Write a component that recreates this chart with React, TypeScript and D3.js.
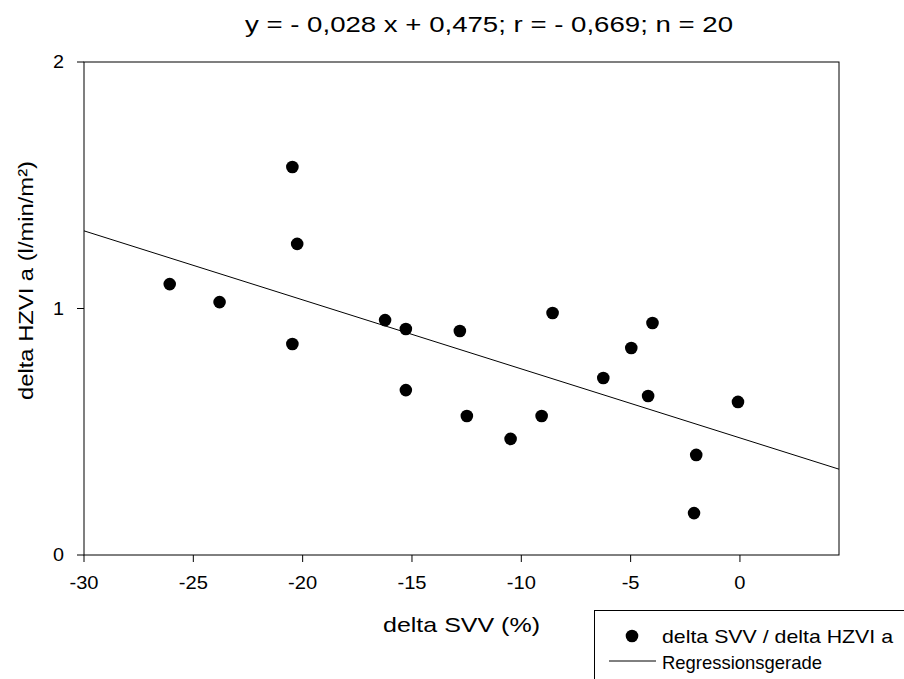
import React from "react";
import * as d3 from "d3";

const xValues = [-26.08, -23.8, -20.47, -20.25, -20.47, -16.23, -15.28, -15.28, -12.81, -12.49, -10.49, -9.07, -8.57, -6.25, -4.97, -4.0, -4.2, -0.09, -2.0, -2.1];
const yValues = [1.099, 1.026, 1.574, 1.262, 0.856, 0.953, 0.917, 0.669, 0.909, 0.564, 0.471, 0.564, 0.982, 0.718, 0.84, 0.941, 0.645, 0.621, 0.406, 0.17];
const xTicks = [-30, -25, -20, -15, -10, -5, 0];
const yTicks = [0, 1, 2];
const slope = -0.028;
const intercept = 0.475;
const title = "y = - 0,028 x + 0,475; r = - 0,669; n = 20";
const xLabel = "delta SVV (%)";
const yLabel = "delta HZVI a (l/min/m²)";
const legendLabels = ["delta SVV / delta HZVI a", "Regressionsgerade"];

export default function App() {
  const W = 904, H = 679;
  const left = 84, right = 839, top = 62, bottom = 555;
  const x = d3.scaleLinear().domain([-30, 4.53]).range([left, right]);
  const y = d3.scaleLinear().domain([0, 2]).range([bottom, top]);
  const font = "'Liberation Sans', Arial, sans-serif";
  const line = d3.line<number>().x((d) => x(d)).y((d) => y(slope * d + intercept));
  const [x0, x1] = x.domain();
  return (
    <svg width={W} height={H} style={{ position: "absolute", left: 0, top: 0 }} fontFamily={font}>
      <rect x={0} y={0} width={W} height={H} fill="#fff" />
      <text x={245} y={32} fontSize={22} textLength={488} lengthAdjust="spacingAndGlyphs">{title}</text>
      <rect x={left} y={top} width={right - left} height={bottom - top} fill="none" stroke="#000" strokeWidth={1} />
      {xTicks.map((t) => (
        <g key={"x" + t}>
          <line x1={x(t)} x2={x(t)} y1={bottom} y2={bottom + 7} stroke="#000" />
          <text transform={`translate(${x(t)},589) scale(1.06,1)`} textAnchor="middle" fontSize={19}>{t}</text>
        </g>
      ))}
      {yTicks.map((t) => (
        <g key={"y" + t}>
          <line x1={left - 7} x2={left} y1={y(t)} y2={y(t)} stroke="#000" />
          <text transform={`translate(${left - 20},${y(t) + 6}) scale(1.1,1)`} textAnchor="end" fontSize={18}>{t}</text>
        </g>
      ))}
      <text x={383} y={632} fontSize={21} textLength={157} lengthAdjust="spacingAndGlyphs">{xLabel}</text>
      <text transform={`translate(33,400) rotate(-90)`} fontSize={21} textLength={239} lengthAdjust="spacingAndGlyphs">{yLabel}</text>
      <path d={line([x0, x1]) || ""} fill="none" stroke="#000" strokeWidth={1} />
      {xValues.map((xv, i) => (
        <circle key={i} cx={x(xv)} cy={y(yValues[i])} r={6.3} fill="#000" />
      ))}
      <rect x={594.5} y={610.5} width={320} height={80} fill="#fff" stroke="#000" />
      <circle cx={632} cy={636} r={6.3} fill="#000" />
      <text x={662} y={643} fontSize={19} textLength={231} lengthAdjust="spacingAndGlyphs">{legendLabels[0]}</text>
      <line x1={609} x2={656} y1={661} y2={661} stroke="#000" />
      <text x={662} y={669} fontSize={19} textLength={160} lengthAdjust="spacingAndGlyphs">{legendLabels[1]}</text>
    </svg>
  );
}
